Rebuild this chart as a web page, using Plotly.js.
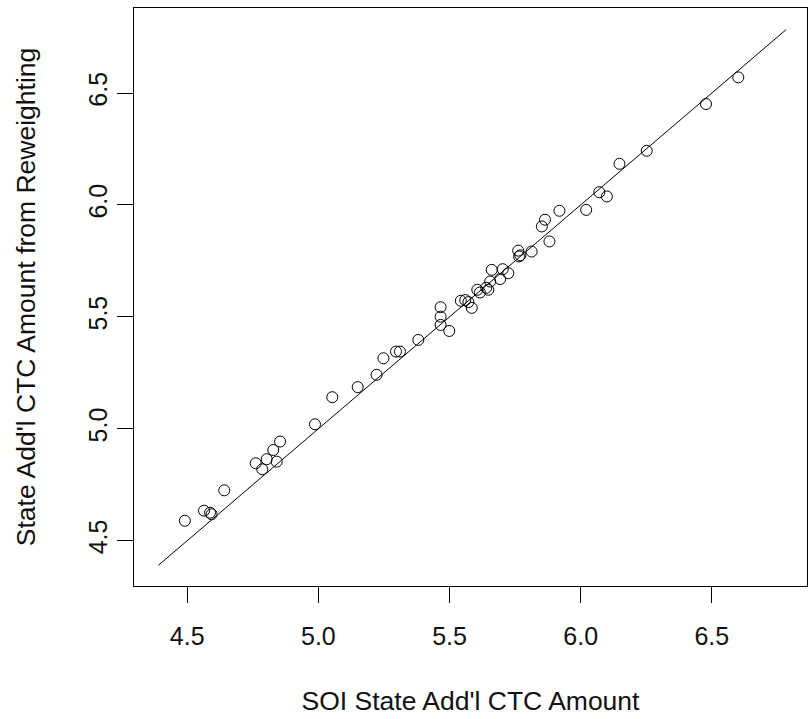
<!DOCTYPE html>
<html>
<head>
<meta charset="utf-8">
<script src="https://cdn.plot.ly/plotly-3.0.1.min.js"></script>
<style>html,body{margin:0;padding:0;background:#fff;}#chart{width:809px;height:719px;}</style>
</head>
<body>
<div id="chart"></div>
<script>
// SOI state additional CTC amount (x) vs amount from reweighting (y)
const soiAmount = [4.491,4.564,4.587,4.593,4.641,4.761,4.786,4.803,4.828,4.841,4.854,
  4.987,5.053,5.150,5.222,5.248,5.296,5.311,5.381,5.466,5.466,5.466,5.499,
  5.543,5.560,5.572,5.585,5.606,5.616,5.640,5.648,5.655,5.661,5.693,5.703,5.724,
  5.762,5.765,5.770,5.813,5.852,5.864,5.881,5.919,6.021,6.071,6.100,6.148,6.252,6.478,6.601];
const reweightAmount = [4.589,4.634,4.625,4.618,4.725,4.846,4.819,4.864,4.905,4.853,4.943,
  5.020,5.141,5.186,5.241,5.315,5.345,5.345,5.397,5.543,5.501,5.464,5.437,
  5.572,5.575,5.566,5.540,5.621,5.609,5.630,5.621,5.658,5.710,5.669,5.713,5.695,
  5.796,5.770,5.775,5.792,5.904,5.934,5.837,5.974,5.978,6.057,6.038,6.184,6.242,6.451,6.570];
const identityLine = [4.39, 6.783];
const tickValues = [4.5, 5.0, 5.5, 6.0, 6.5];
const tickLabels = ["4.5", "5.0", "5.5", "6.0", "6.5"];

const font = "Liberation Sans, Arial, sans-serif";
const textColor = "#111";
const data = [
  {x: soiAmount, y: reweightAmount, type: "scatter", mode: "markers",
   marker: {symbol: "circle-open", size: 11, color: "#000", line: {width: 1, color: "#000"}},
   hoverinfo: "x+y"},
  {x: identityLine, y: identityLine, type: "scatter", mode: "lines",
   line: {color: "#000", width: 1}, hoverinfo: "skip"}
];
const axisCommon = {
  showgrid: false, zeroline: false, showline: true, mirror: true,
  linecolor: "#000", linewidth: 1, ticks: "outside", ticklen: 16, tickwidth: 1, tickcolor: "#000",
  tickvals: tickValues, ticktext: tickLabels,
  tickfont: {family: font, size: 25, color: textColor}
};
const layout = {
  width: 809, height: 719, showlegend: false,
  paper_bgcolor: "#fff", plot_bgcolor: "#fff",
  margin: {l: 134, r: 2, t: 8, b: 133},
  xaxis: Object.assign({}, axisCommon, {
    range: [4.297, 6.863],
    ticklabelstandoff: 12,
    title: {text: "SOI State Add'l CTC Amount", font: {family: font, size: 26.5, color: textColor}, standoff: 42}
  }),
  yaxis: Object.assign({}, axisCommon, {
    range: [4.2975, 6.880], tickangle: -90,
    ticklabelstandoff: 0,
    title: {text: "State Add'l CTC Amount from Reweighting", font: {family: font, size: 26.5, color: textColor}, standoff: 40}
  })
};
Plotly.newPlot("chart", data, layout, {displayModeBar: false, staticPlot: true});
</script>
</body>
</html>
